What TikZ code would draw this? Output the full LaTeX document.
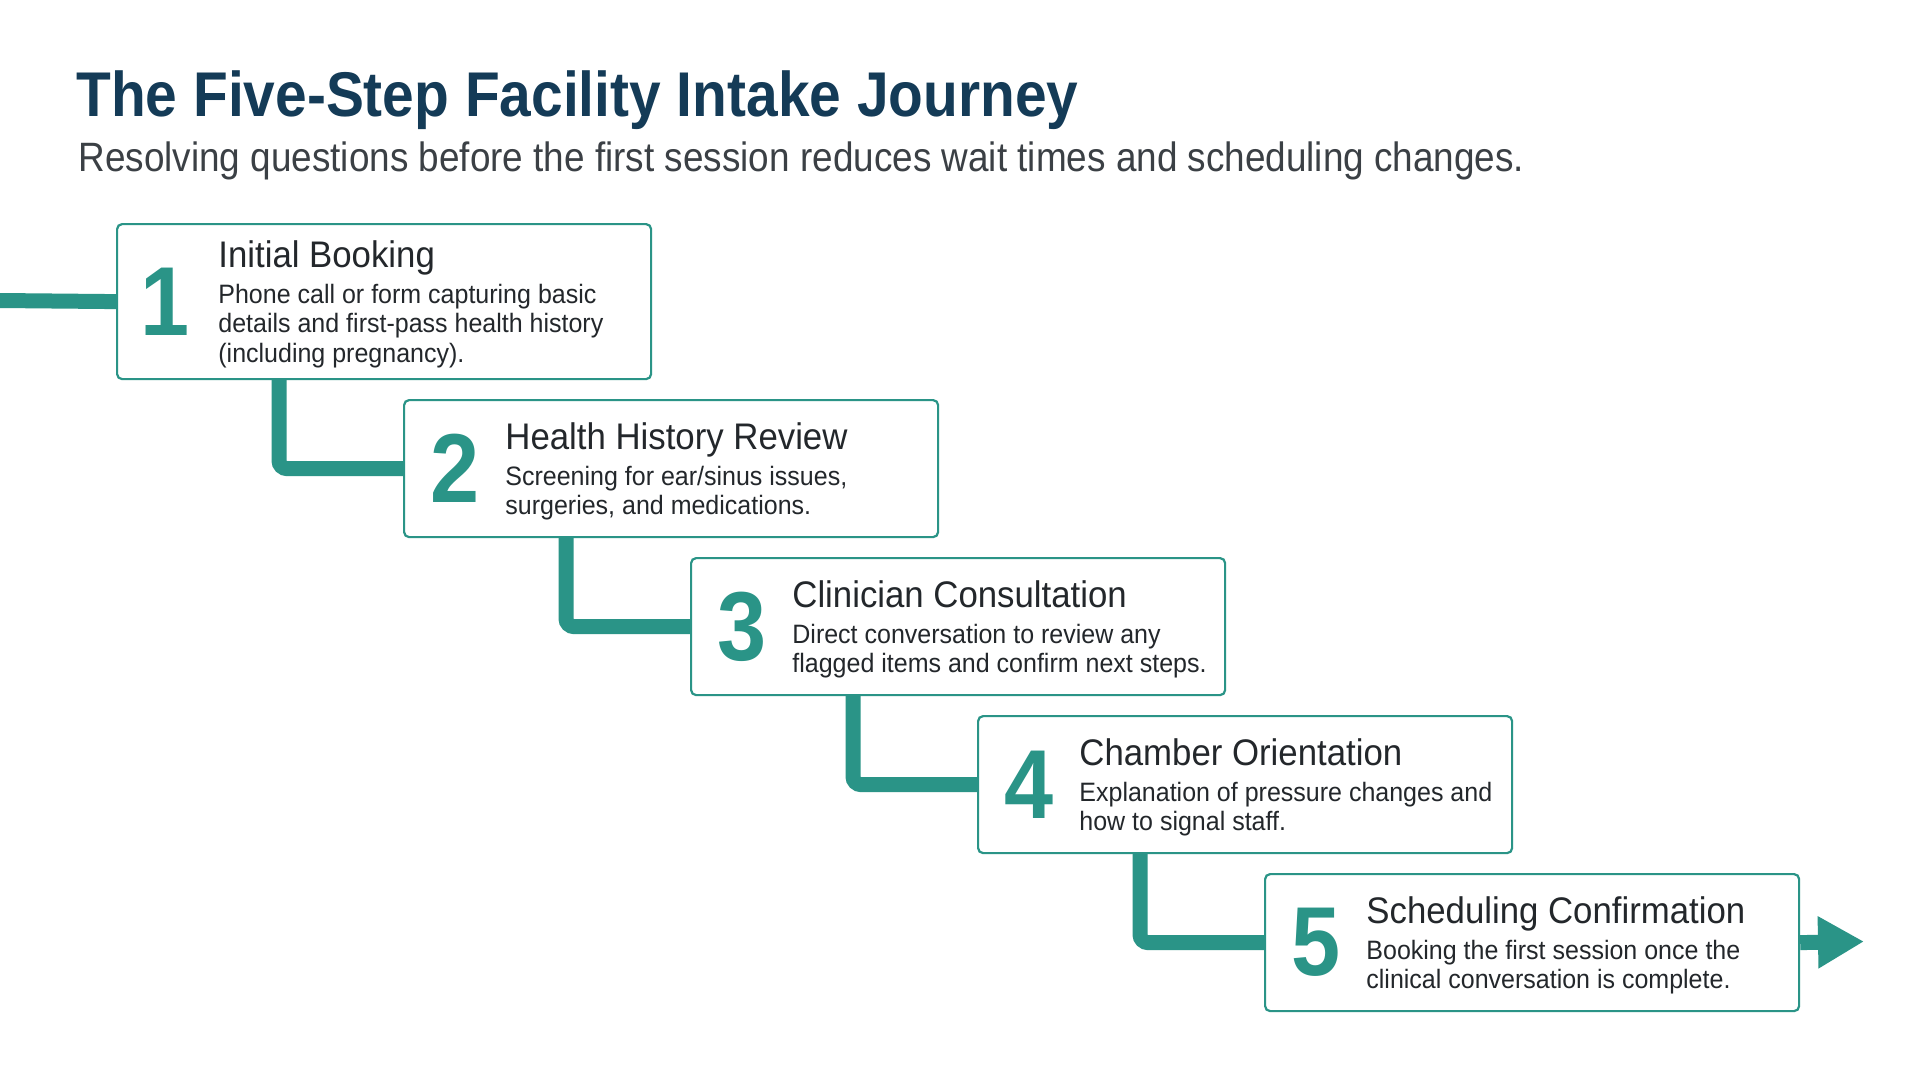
\documentclass[tikz,border=0pt]{standalone}
\usepackage{fontspec}
\setmainfont{Liberation Sans}[FakeStretch=0.9]
\newfontfamily\stepfont{Liberation Sans}[FakeStretch=0.94]
\usetikzlibrary{calc,arrows.meta}
\definecolor{teal1}{HTML}{2A9487}
\definecolor{navy}{HTML}{143B57}
\definecolor{txt}{HTML}{23272B}
\definecolor{subc}{HTML}{3B4045}
\begin{document}
\begin{tikzpicture}[x=0.5pt,y=-0.5pt,
  stepbox/.style={draw=teal1,line width=1.1pt,fill=white,rounded corners=2.5pt,minimum width=267pt,inner sep=0pt,anchor=north west},
  num/.style={font=\fontsize{49}{49}\selectfont\bfseries,text=teal1,inner sep=0pt,anchor=center},
  stitle/.style={font=\stepfont\fontsize{18.5}{20}\selectfont,text=txt,anchor=base west,inner sep=0pt},
  sbody/.style={font=\stepfont\fontsize{13.3}{14.75}\selectfont,text=txt,anchor=base west,inner sep=0pt,align=left},
  flow/.style={draw=teal1,line width=7.5pt,rounded corners=4pt}
]
\fill[white] (0,0) rectangle (1920,1072);
\useasboundingbox (0,0) rectangle (1920,1072);

\node[font=\fontsize{31.6}{34}\selectfont\bfseries,text=navy,anchor=base west,inner sep=0pt] (title) at (76,116) {The Five-Step Facility Intake Journey};
\node[font=\fontsize{20.5}{23}\selectfont,text=subc,anchor=base west,inner sep=0pt] (subtitle) at (78,171) {Resolving questions before the first session reduces wait times and scheduling changes.};

% boxes
\node[stepbox,minimum height=77.5pt] (b1) at (116,223) {};
\node[stepbox,minimum height=68.5pt] (b2) at (403,399) {};
\node[stepbox,minimum height=68.5pt] (b3) at (690,557) {};
\node[stepbox,minimum height=68.5pt] (b4) at (977,715) {};
\node[stepbox,minimum height=68.5pt] (b5) at (1264,873) {};

% connectors
\coordinate (start) at (0,300.5);
\coordinate (finish) at (1864,941.5);
\draw[flow] (start) -- (b1.west);
\draw[flow] ($(b1.south west)+(163,0)$) |- (b2.west);
\draw[flow] ($(b2.south west)+(163,0)$) |- (b3.west);
\draw[flow] ($(b3.south west)+(163,0)$) |- (b4.west);
\draw[flow] ($(b4.south west)+(163,0)$) |- (b5.west);
\draw[flow,-{Triangle[length=23pt,width=24.5pt]}] (b5.east) -- (finish);

% step 1
\node[num] (n1) at ($(b1.west)+(49,0)$) {1};
\node[stitle] (t1) at ($(b1.west)+(102,-34.5)$) {Initial Booking};
\node[sbody] (d1) at ($(b1.west)+(102,60.5)$) {Phone call or form capturing basic\\details and first-pass health history\\(including pregnancy).};

% step 2
\node[num] (n2) at ($(b2.west)+(52,0)$) {2};
\node[stitle] (t2) at ($(b2.west)+(102,-19.5)$) {Health History Review};
\node[sbody] (d2) at ($(b2.west)+(102,46)$) {Screening for ear/sinus issues,\\surgeries, and medications.};

% step 3
\node[num] (n3) at ($(b3.west)+(52,0)$) {3};
\node[stitle] (t3) at ($(b3.west)+(102,-19.5)$) {Clinician Consultation};
\node[sbody] (d3) at ($(b3.west)+(102,46)$) {Direct conversation to review any\\flagged items and confirm next steps.};

% step 4
\node[num] (n4) at ($(b4.west)+(52,0)$) {4};
\node[stitle] (t4) at ($(b4.west)+(102,-19.5)$) {Chamber Orientation};
\node[sbody] (d4) at ($(b4.west)+(102,46)$) {Explanation of pressure changes and\\how to signal staff.};

% step 5
\node[num] (n5) at ($(b5.west)+(52,0)$) {5};
\node[stitle] (t5) at ($(b5.west)+(102,-19.5)$) {Scheduling Confirmation};
\node[sbody] (d5) at ($(b5.west)+(102,46)$) {Booking the first session once the\\clinical conversation is complete.};
\end{tikzpicture}
\end{document}
